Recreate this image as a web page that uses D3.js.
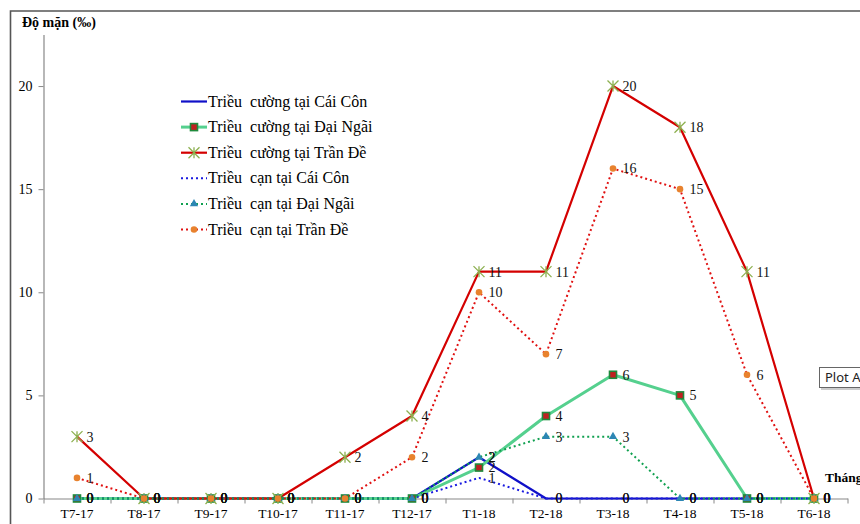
<!DOCTYPE html>
<html>
<head>
<meta charset="utf-8">
<script src="https://cdn.jsdelivr.net/npm/d3@7"></script>
<style>
  html, body { margin: 0; padding: 0; background: #fff; overflow: hidden; }
  svg { display: block; }
</style>
</head>
<body>
<svg id="chart" width="860" height="524"></svg>
<script>
// Monthly salinity (‰) at three stations, spring tide vs. low tide
const months = ["T7-17","T8-17","T9-17","T10-17","T11-17","T12-17","T1-18","T2-18","T3-18","T4-18","T5-18","T6-18"];
const yTicks = [0, 5, 10, 15, 20];

const tcCaiCon   = [0, 0, 0, 0, 0, 0, 2,   0, 0,  0,  0,  0];
const tcDaiNgai  = [0, 0, 0, 0, 0, 0, 1.5, 4, 6,  5,  0,  0];
const tcTranDe   = [3, 0, 0, 0, 2, 4, 11, 11, 20, 18, 11, 0];
const tlCaiCon   = [0, 0, 0, 0, 0, 0, 1,   0, 0,  0,  0,  0];
const tlDaiNgai  = [0, 0, 0, 0, 0, 0, 2,   3, 3,  0,  0,  0];
const tlTranDe   = [1, 0, 0, 0, 0, 2, 10,  7, 16, 15, 6,  0];

const seriesNames = [
  "Triều  cường tại Cái Côn",
  "Triều  cường tại Đại Ngãi",
  "Triều  cường tại Trần Đề",
  "Triều  cạn tại Cái Côn",
  "Triều  cạn tại Đại Ngãi",
  "Triều  cạn tại Trần Đề"
];

const series = [
  { name: seriesNames[0], values: tcCaiCon,  color: "#1010c8", width: 2.2, dash: null,  marker: "none" },
  { name: seriesNames[1], values: tcDaiNgai, color: "#55d08e", width: 3,   dash: null,  marker: "square" },
  { name: seriesNames[2], values: tcTranDe,  color: "#d40000", width: 2.2, dash: null,  marker: "star" },
  { name: seriesNames[3], values: tlCaiCon,  color: "#1a1ae0", width: 2,   dash: "2,3", marker: "none" },
  { name: seriesNames[4], values: tlDaiNgai, color: "#10a050", width: 2,   dash: "2,3", marker: "triangle" },
  { name: seriesNames[5], values: tlTranDe,  color: "#e01010", width: 2,   dash: "2,3", marker: "circle" }
];

const svg = d3.select("#chart");
const serif = "'Liberation Serif', 'Times New Roman', serif";

// outer chart frame (top and left edges)
svg.append("path")
  .attr("d", "M10.5,524 V11 H860")
  .attr("fill", "none").attr("stroke", "#555").attr("stroke-width", 1.6);

const x = d3.scaleBand().domain(months).range([43.5, 847.5]);
const y = d3.scaleLinear().domain([0, 22.5]).range([498.5, 34.5]);
const cx = m => x(m) + x.bandwidth() / 2;

// y axis
const yAxis = svg.append("g").attr("transform", "translate(43.5,0)")
  .call(d3.axisLeft(y).tickValues(yTicks).tickSize(5).tickPadding(6).tickSizeOuter(0));
yAxis.select(".domain").attr("stroke", "#888").attr("stroke-width", 1.2);
yAxis.selectAll(".tick line").attr("stroke", "#888");
yAxis.selectAll("text").attr("font-family", serif).attr("font-size", 14).attr("fill", "#000");

// x axis: tick marks at category boundaries, labels centred in each band
const xb = d3.scaleLinear().domain([0, months.length]).range([43.5, 847.5]);
const xTickAxis = svg.append("g").attr("transform", "translate(0,498.5)")
  .call(d3.axisBottom(xb).tickValues(d3.range(months.length + 1)).tickFormat("").tickSize(5).tickSizeOuter(0));
xTickAxis.select(".domain").attr("stroke", "#888").attr("stroke-width", 1.2);
xTickAxis.selectAll(".tick line").attr("stroke", "#888");

const xLab = svg.append("g").attr("transform", "translate(0,498.5)")
  .call(d3.axisBottom(x).tickSize(0).tickPadding(10));
xLab.select(".domain").remove();
xLab.selectAll("text").attr("font-family", serif).attr("font-size", 13.5).attr("fill", "#000");

// axis titles
svg.append("text").attr("x", 22).attr("y", 27)
  .attr("font-family", serif).attr("font-size", 14).attr("font-weight", "bold")
  .text("Độ mặn (‰)");
svg.append("text").attr("x", 825).attr("y", 482)
  .attr("font-family", serif).attr("font-size", 13.5).attr("font-weight", "bold")
  .text("Tháng");

// markers
function drawMarker(g, type, px, py) {
  if (type === "square") {
    g.append("rect").attr("x", px - 3.5).attr("y", py - 3.5).attr("width", 7).attr("height", 7)
      .attr("fill", "#c02020").attr("stroke", "#1f8a3c").attr("stroke-width", 1.6);
  } else if (type === "star") {
    const s = 5.5;
    g.append("path")
      .attr("d", `M${px - s},${py - s}L${px + s},${py + s}M${px - s},${py + s}L${px + s},${py - s}M${px},${py - s}L${px},${py + s}`)
      .attr("stroke", "#8db050").attr("stroke-width", 1.3).attr("fill", "none");
  } else if (type === "triangle") {
    g.append("path").attr("d", d3.symbol(d3.symbolTriangle, 30)())
      .attr("transform", `translate(${px},${py})`).attr("fill", "#2c86b4");
  } else if (type === "circle") {
    g.append("circle").attr("cx", px).attr("cy", py).attr("r", 3.3).attr("fill", "#e8822e");
  }
}

const line = d3.line().x((d, i) => cx(months[i])).y(d => y(d));
const fmt = v => d3.format(".0f")(v);

const plot = svg.append("g");
series.forEach(s => {
  plot.append("path").datum(s.values)
    .attr("d", line).attr("fill", "none")
    .attr("stroke", s.color).attr("stroke-width", s.width)
    .attr("stroke-dasharray", s.dash)
    .attr("stroke-linejoin", "round");
});
series.forEach(s => {
  const g = plot.append("g");
  s.values.forEach((v, i) => drawMarker(g, s.marker, cx(months[i]), y(v)));
});

// data labels
const labels = svg.append("g");
series.forEach(s => {
  s.values.forEach((v, i) => {
    labels.append("text")
      .attr("x", cx(months[i]) + 9.5).attr("y", y(v)).attr("dy", "0.35em")
      .attr("font-family", serif).attr("font-size", 14).attr("fill", "#111")
      .text(fmt(v));
  });
});

// legend
const legend = svg.append("g").attr("transform", "translate(181,101.5)");
series.forEach((s, i) => {
  const row = legend.append("g").attr("transform", `translate(0,${i * 25.6})`);
  row.append("line").attr("x1", 0).attr("x2", 26).attr("y1", 0).attr("y2", 0)
    .attr("stroke", s.color).attr("stroke-width", s.width).attr("stroke-dasharray", s.dash);
  drawMarker(row, s.marker, 13, 0);
  row.append("text").attr("x", 27).attr("y", 0).attr("dy", "0.32em")
    .attr("font-family", serif).attr("font-size", 16).attr("fill", "#000")
    .attr("xml:space", "preserve").style("white-space", "pre")
    .text(s.name);
});

// element-name tooltip box
const tip = svg.append("g").attr("transform", "translate(819,367)");
tip.append("rect").attr("x", 2).attr("y", 2).attr("width", 60).attr("height", 21).attr("fill", "#999").attr("opacity", 0.5);
tip.append("rect").attr("x", 0.5).attr("y", 0.5).attr("width", 60).attr("height", 20)
  .attr("fill", "#fff").attr("stroke", "#666");
tip.append("text").attr("x", 6).attr("y", 15)
  .attr("font-family", "'Noto Sans', 'Open Sans', sans-serif").attr("font-size", 13).attr("fill", "#222")
  .text("Plot Area");
</script>
</body>
</html>
